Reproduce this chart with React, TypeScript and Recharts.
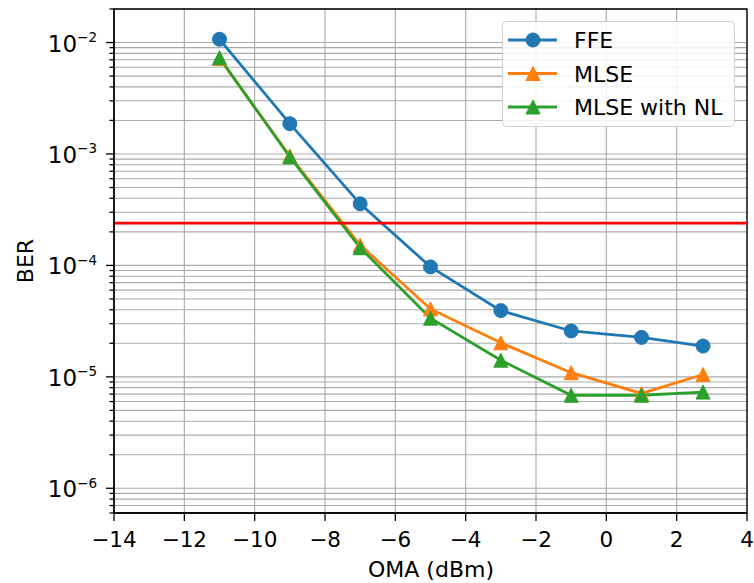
import React from "react";
import {
	LineChart,
	Line,
	XAxis,
	YAxis,
	CartesianGrid,
	ReferenceLine,
	ReferenceArea,
	Legend,
} from "recharts";

const oma = [-11, -9, -7, -5, -3, -1, 1, 2.75];
const berFFE = [1.07e-2, 1.87e-3, 3.57e-4, 9.7e-5, 3.93e-5, 2.58e-5, 2.26e-5, 1.89e-5];
const berMLSE = [7.2e-3, 9.6e-4, 1.52e-4, 4.07e-5, 2.02e-5, 1.09e-5, 7.1e-6, 1.05e-5];
const berMLSENL = [7.3e-3, 9.4e-4, 1.44e-4, 3.36e-5, 1.41e-5, 6.84e-6, 6.84e-6, 7.3e-6];
const fecLimit = 2.4e-4;

const xTicks = [-14, -12, -10, -8, -6, -4, -2, 0, 2, 4];
const yMajor = [1e-6, 1e-5, 1e-4, 1e-3, 1e-2];
const yDomain = [6e-7, 2e-2];

// minor log ticks (2..9 x 10^k) inside the visible range
const yTicks: number[] = [];
for (let e = -7; e <= -2; e++) {
	for (let m = 1; m <= 9; m++) {
		const v = m * Math.pow(10, e);
		if (v >= yDomain[0] * 0.999 && v <= yDomain[1] * 1.001) yTicks.push(v);
	}
}

const series = [
	{ key: "ffe", name: "FFE", color: "#1f77b4", marker: "circle" },
	{ key: "mlse", name: "MLSE", color: "#ff7f0e", marker: "triangle" },
	{ key: "nl", name: "MLSE with NL", color: "#2ca02c", marker: "triangle" },
];

const data = oma.map((x, i) => ({
	oma: x,
	ffe: berFFE[i],
	mlse: berMLSE[i],
	nl: berMLSENL[i],
}));

const FONT = "'DejaVu Sans', sans-serif";
const MARK = 7;

const isMajor = (v: number) => yMajor.some((m) => Math.abs(v / m - 1) < 1e-6);

function YTick(props: any) {
	const { x, y, payload } = props;
	const v = payload.value as number;
	const major = isMajor(v);
	const exp = Math.round(Math.log10(v));
	return (
		<g>
			<line x1={x - (major ? 8 : 4.5)} x2={x} y1={y} y2={y} stroke="#000" strokeWidth={1.3} />
			{major && (
				<text x={x - 17} y={y + 9} textAnchor="end" fontSize={23} fontFamily={FONT} fill="#000">
					10
					<tspan fontSize={13.5} dy={-9.5}>
						{`\u2212${Math.abs(exp)}`}
					</tspan>
				</text>
			)}
		</g>
	);
}

function XTick(props: any) {
	const { x, y, payload } = props;
	const label = String(payload.value).replace("-", "\u2212");
	return (
		<g>
			<line x1={x} x2={x} y1={y} y2={y + 8} stroke="#000" strokeWidth={1.3} />
			<text x={x} y={y + 34} textAnchor="middle" fontSize={21.5} fontFamily={FONT} fill="#000">
				{label}
			</text>
		</g>
	);
}

function Marker({ cx, cy, color, marker }: any) {
	if (cx == null || cy == null) return null;
	if (marker === "circle") return <circle cx={cx} cy={cy} r={MARK} fill={color} stroke={color} />;
	const r = MARK;
	return (
		<polygon
			points={`${cx},${cy - r} ${cx - r},${cy + r} ${cx + r},${cy + r}`}
			fill={color}
			stroke={color}
			strokeWidth={1}
		/>
	);
}

function LegendBox() {
	return (
		<svg width={233} height={106} style={{ display: "block" }}>
			<rect x={0.5} y={0.5} width={232} height={105} rx={4} fill="rgba(255,255,255,0.85)" stroke="#d0d0d0" />
			{series.map((s, i) => {
				const cy = 19 + i * 33.5;
				return (
					<g key={s.key}>
						<line x1={6} x2={55} y1={cy} y2={cy} stroke={s.color} strokeWidth={2.8} />
						<Marker cx={31} cy={cy} color={s.color} marker={s.marker} />
						<text x={72} y={cy + 8} fontSize={22} fontFamily={FONT} fill="#000">
							{s.name}
						</text>
					</g>
				);
			})}
		</svg>
	);
}

export default function App() {
	return (
		<div style={{ position: "absolute", left: 0, top: 0, width: 754, height: 583, background: "#fff" }}>
			<LineChart width={754} height={583} data={data} margin={{ top: 9, right: 7, bottom: 0, left: 0 }}>
				<CartesianGrid stroke="#aaaaaa" strokeWidth={1.1} />
				<XAxis
					dataKey="oma"
					type="number"
					domain={[-14, 4]}
					ticks={xTicks}
					interval={0}
					height={70}
					tickSize={0}
					tickMargin={0}
					tickLine={false}
					axisLine={{ stroke: "#000", strokeWidth: 1.3 }}
					tick={<XTick />}
				/>
				<YAxis
					type="number"
					scale="log"
					domain={yDomain}
					allowDataOverflow
					ticks={yTicks}
					interval={0}
					width={114}
					tickSize={0}
					tickMargin={0}
					tickLine={false}
					axisLine={{ stroke: "#000", strokeWidth: 1.3 }}
					tick={<YTick />}
				/>
				{series.map((s) => (
					<Line
						key={s.key}
						dataKey={s.key}
						name={s.name}
						stroke={s.color}
						strokeWidth={2.8}
						isAnimationActive={false}
						dot={(p: any) => <Marker key={`${s.key}-${p.index}`} cx={p.cx} cy={p.cy} color={s.color} marker={s.marker} />}
						activeDot={false}
					/>
				))}
				<ReferenceLine y={fecLimit} stroke="#ff0000" strokeWidth={2.8} />
				<ReferenceArea x1={-14} x2={4} y1={yDomain[0]} y2={yDomain[1]} fill="none" stroke="#000" strokeWidth={1.3} />
				<Legend
					layout="vertical"
					align="center"
					verticalAlign="middle"
					wrapperStyle={{ left: 502, top: 21, width: 233, height: 106 }}
					content={() => <LegendBox />}
				/>
				<text x={33} y={261} transform="rotate(-90, 33, 261)" textAnchor="middle" fontSize={22} fontFamily={FONT} fill="#000">
					BER
				</text>
				<text x={431} y={577} textAnchor="middle" fontSize={22} fontFamily={FONT} fill="#000">
					OMA (dBm)
				</text>
			</LineChart>
		</div>
	);
}
